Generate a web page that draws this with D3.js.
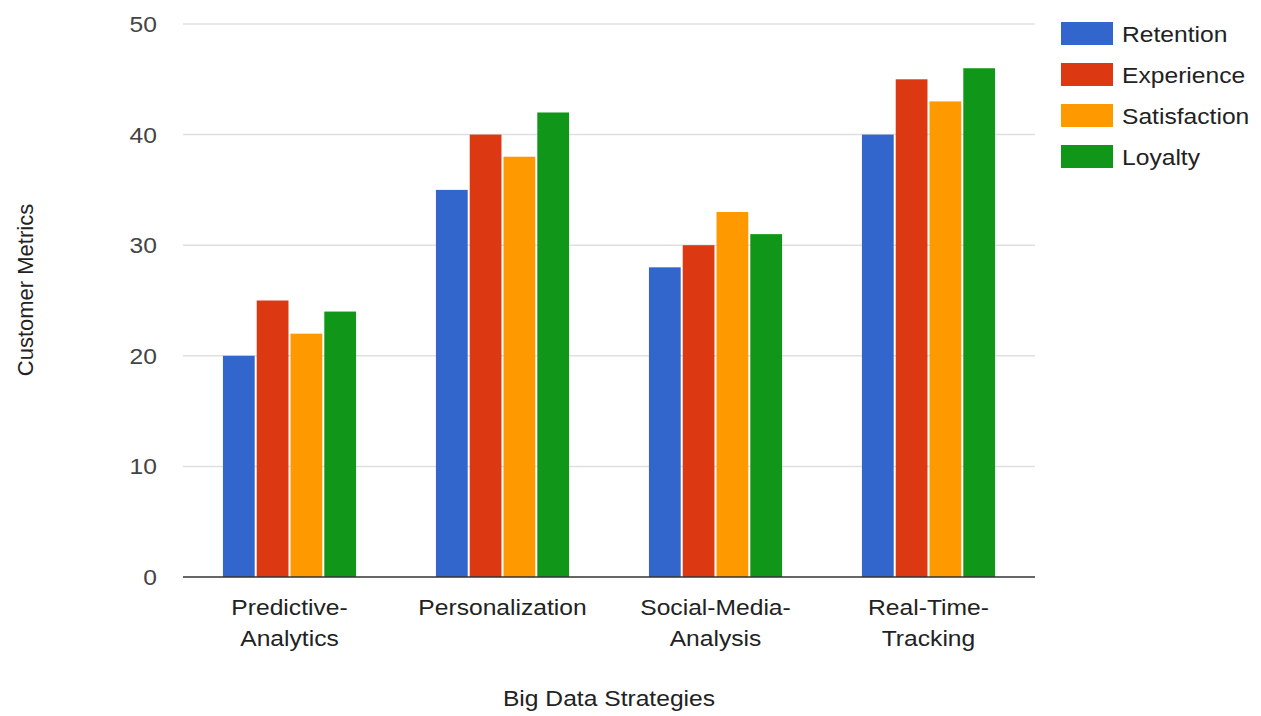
<!DOCTYPE html>
<html><head><meta charset="utf-8">
<script src="https://cdn.jsdelivr.net/npm/d3@7"></script>
<style>body{margin:0;background:#fff}svg{display:block;font-family:"Liberation Sans",Arial,sans-serif}</style>
</head><body><svg id="c" width="1261" height="716"></svg>
<script>
const categories = [["Predictive-","Analytics"],["Personalization"],["Social-Media-","Analysis"],["Real-Time-","Tracking"]];
const seriesNames = ["Retention","Experience","Satisfaction","Loyalty"];
const retention = [20,35,28,40];
const experience = [25,40,30,45];
const satisfaction = [22,38,33,43];
const loyalty = [24,42,31,46];
const yTicks = [0,10,20,30,40,50];
const colors = ["#3366CC","#DC3912","#FF9900","#109618"];
const series = [retention,experience,satisfaction,loyalty];

const SX = 1.12, FS = 22;
const svg = d3.select("#c");
const L=183,R=1035,T=24,B=577;
const x = d3.scaleBand().domain(d3.range(categories.length)).range([L,R]).paddingInner(0.375).paddingOuter(0.1875);
const xi = d3.scaleBand().domain(d3.range(seriesNames.length)).range([0,x.bandwidth()]).paddingInner(0.06);
const y = d3.scaleLinear().domain([0,50]).range([B,T]);

function label(parent, px, py, anchor, lines, fill, lh){
  const g = parent.append("g").attr("transform",`translate(${px},${py}) scale(${SX},1)`);
  const t = g.append("text").attr("text-anchor",anchor).attr("font-size",FS).attr("fill",fill);
  lines.forEach((s,i)=>t.append("tspan").attr("x",0).attr("dy",i===0?0:lh).text(s));
  return t;
}

// gridlines
svg.append("g").selectAll("line").data(yTicks.filter(d=>d>0)).join("line")
  .attr("x1",L).attr("x2",R).attr("y1",d=>y(d)).attr("y2",d=>y(d))
  .attr("stroke","#e0e0e0").attr("stroke-width",1.5);
// y labels
const yl = svg.append("g");
yTicks.forEach(d=>label(yl,157,y(d)+8,"end",[String(d)],"#444",0));

// bars
series.forEach((vals,si)=>{
  svg.append("g").selectAll("rect").data(vals).join("rect")
    .attr("x",(d,i)=>x(i)+xi(si)).attr("width",xi.bandwidth())
    .attr("y",d=>y(d)).attr("height",d=>B-y(d)).attr("fill",colors[si]);
});
// baseline
svg.append("line").attr("x1",L).attr("x2",R).attr("y1",B).attr("y2",B).attr("stroke","#333").attr("stroke-width",1.5);

// category labels
const cl = svg.append("g");
categories.forEach((c,i)=>label(cl, x(i)+x.bandwidth()/2, 615, "middle", c, "#222", 31));

// axis titles
label(svg,609,706,"middle",["Big Data Strategies"],"#222",0);
svg.append("text").attr("transform","translate(33,290) rotate(-90)").attr("text-anchor","middle").attr("font-size",FS).attr("fill","#222").text("Customer Metrics");

// legend
const lg = svg.append("g");
seriesNames.forEach((n,i)=>{
  const g = lg.append("g").attr("transform",`translate(1061,${22+i*41})`);
  g.append("rect").attr("width",52).attr("height",23).attr("fill",colors[i]);
  label(g,61,20,"start",[n],"#222",0);
});
</script></body></html>
